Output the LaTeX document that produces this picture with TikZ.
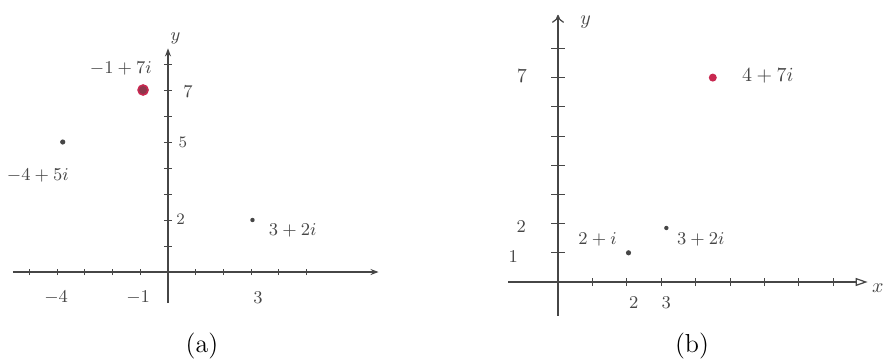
\documentclass[tikz,border=0pt]{standalone}
\usepackage{amsmath}
\usepackage{tikz}
\usetikzlibrary{arrows.meta}

\definecolor{inkgray}{RGB}{70,70,70}
\definecolor{dotred}{RGB}{200,40,80}

\begin{document}
\begin{tikzpicture}[x=0.5pt, y=-0.5pt,
    axis/.style={draw=inkgray, line width=0.6pt},
    tick/.style={draw=inkgray, line width=0.5pt},
    lbl/.style={text=inkgray, font=\small, inner sep=1pt},
    pt/.style={circle, fill=inkgray, inner sep=0pt, minimum size=2.2pt},
    bigpt/.style={circle, fill=dotred, inner sep=0pt, minimum size=#1},
    capt/.style={font=\fontsize{13}{15}\selectfont}]
  \useasboundingbox (0,0) rectangle (884,360);
  \fill[white] (0,0) rectangle (884,360);

  % (a)
  \begin{scope}[shift={(168,272)}, x=13.85pt, y=13pt]
    \coordinate (ax0) at (-5.6,0);
    \coordinate (ax1) at (7.6,0);
    \coordinate (ay0) at (0,-1.2);
    \coordinate (ay1) at (0,8.6);
    \draw[axis, -{Stealth[length=4pt]}] (ax0) -- (ax1);
    \draw[axis, -{Stealth[length=4pt]}] (ay0) -- (ay1);
    \foreach \i in {-5,...,-1,1,2,...,5}
      \draw[tick] (\i,-0.12) -- (\i,0.12);
    \foreach \j in {1,...,8}
      \draw[tick] (-0.15,\j) -- (0.15,\j);
    \node[lbl] (ay) at (0.27,9.0) {$y$};
    \node[lbl] (a7) at (0.72,6.95) {$7$};
    \node[lbl, font=\footnotesize] (a5) at (0.54,5.0) {$5$};
    \node[lbl, font=\footnotesize] (a2) at (0.46,2.04) {$2$};
    \node[lbl] (am4) at (-4.04,-0.97) {$-4$};
    \node[lbl] (am1) at (-1.08,-0.97) {$-1$};
    \node[lbl] (a3) at (3.25,-0.97) {$3$};
    \node[bigpt=5pt, draw=dotred, line width=0.8pt, fill=dotred!55!inkgray] (pa1) at (-0.9,7) {};
    \node[pt, minimum size=2.6pt] (pa2) at (-3.8,5) {};
    \node[pt] (pa3) at (3.05,2) {};
    \node[lbl] (la1) at (-1.7,7.85) {$-1+7i$};
    \node[lbl] (la2) at (-4.7,3.7) {$-4+5i$};
    \node[lbl] (la3) at (4.5,1.6) {$3+2i$};
  \end{scope}

  % (b)
  \begin{scope}[shift={(558,282)}, x=17.2pt, y=14.6pt]
    \coordinate (bx0) at (-1.45,0);
    \coordinate (bx1) at (9.0,0);
    \coordinate (by0) at (0,-1.15);
    \coordinate (by1) at (0,9.15);
    \draw[axis, -{Triangle[open, length=6pt, width=4pt]}] (bx0) -- (bx1);
    \draw[axis, -{To[length=4pt, width=6pt]}] (by0) -- (by1);
    \foreach \i in {1,...,8}
      \draw[tick] (\i,-0.14) -- (\i,0.14);
    \foreach \j in {1,...,8}
      \draw[tick] (-0.2,\j) -- (0.2,\j);
    \node[lbl, font=\normalsize] (by) at (0.8,8.9) {$y$};
    \node[lbl, font=\normalsize] (bxl) at (9.3,-0.2) {$x$};
    \node[lbl, font=\normalsize] (b7) at (-1.05,7.05) {$7$};
    \node[lbl] (b2) at (-1.07,1.9) {$2$};
    \node[lbl] (b1) at (-1.3,0.85) {$1$};
    \node[lbl] (bx2) at (2.2,-0.7) {$2$};
    \node[lbl] (bx3) at (3.15,-0.7) {$3$};
    \node[bigpt=4pt] (pb1) at (4.5,7) {};
    \node[pt, minimum size=2.6pt] (pb2) at (2.05,1) {};
    \node[pt] (pb3) at (3.15,1.85) {};
    \node[lbl, font=\normalsize] (lb1) at (6.1,7.05) {$4+7i$};
    \node[lbl] (lb2) at (1.15,1.45) {$2+i$};
    \node[lbl] (lb3) at (4.15,1.45) {$3+2i$};
  \end{scope}

  \node[capt] (capa) at (202,346) {(a)};
  \node[capt] (capb) at (692,346) {(b)};
\end{tikzpicture}
\end{document}
